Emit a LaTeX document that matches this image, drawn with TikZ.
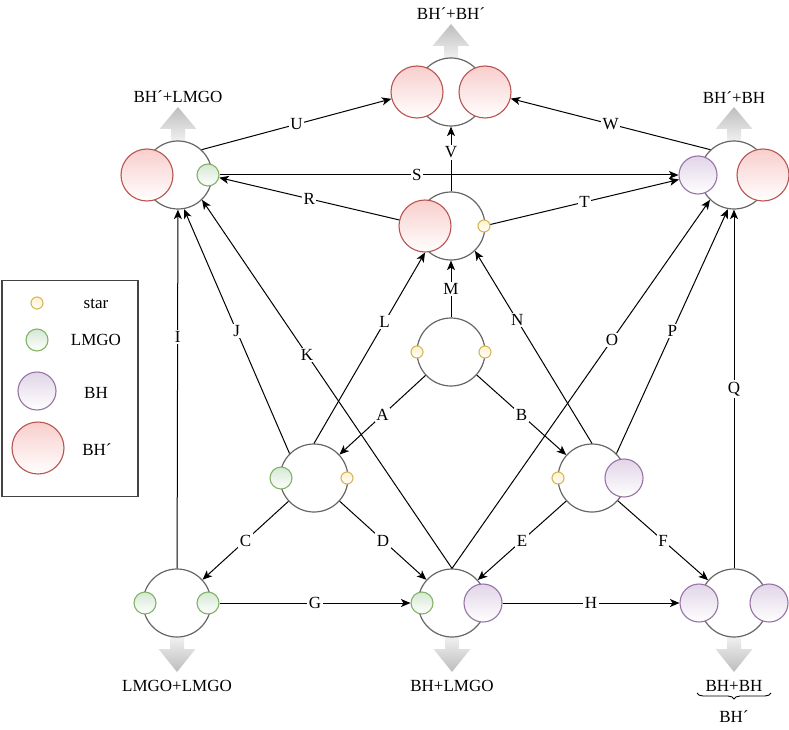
\documentclass[tikz,border=0pt]{standalone}
\usepackage{fontspec}
\setmainfont{Liberation Serif}
\usetikzlibrary{arrows.meta,decorations.pathreplacing}
\definecolor{ringc}{HTML}{666666}
\definecolor{redc}{HTML}{B85450}
\definecolor{redf}{HTML}{F8CECC}
\definecolor{purc}{HTML}{9673A6}
\definecolor{purf}{HTML}{E1D5E7}
\definecolor{grnc}{HTML}{82B366}
\definecolor{grnf}{HTML}{D5E8D4}
\definecolor{starc}{HTML}{D6B656}
\definecolor{starf}{HTML}{FFF2CC}
\definecolor{gdark}{HTML}{BDBDBD}
\definecolor{glight}{HTML}{F0F0F0}
\definecolor{legc}{HTML}{444444}
\newcommand\grayup[2]{\shade[top color=gdark,bottom color=glight] ({#1-7},{#2}) -- ({#1-7},{#2-12}) -- ({#1-18.5},{#2-12}) -- ({#1},{#2-34}) -- ({#1+18.5},{#2-12}) -- ({#1+7},{#2-12}) -- ({#1+7},{#2}) -- cycle;}
\newcommand\graydown[2]{\shade[top color=glight,bottom color=gdark] ({#1-7},{#2}) -- ({#1-7},{#2+12}) -- ({#1-18.5},{#2+12}) -- ({#1},{#2+35}) -- ({#1+18.5},{#2+12}) -- ({#1+7},{#2+12}) -- ({#1+7},{#2}) -- cycle;}
\begin{document}
\begin{tikzpicture}[x=1pt,y=-1pt,
  every node/.style={font=\fontsize{17}{20}\selectfont},
  ring/.style={circle,draw=ringc,fill=white,line width=1.2pt,minimum size=68pt,inner sep=0pt},
  redb/.style={circle,draw=redc,top color=redf,bottom color=white,line width=1.1pt,minimum size=52pt,inner sep=0pt},
  purb/.style={circle,draw=purc,top color=purf,bottom color=white,line width=1.1pt,minimum size=38pt,inner sep=0pt},
  grnb/.style={circle,draw=grnc,top color=grnf,bottom color=white,line width=1.1pt,minimum size=22pt,inner sep=0pt},
  starb/.style={circle,draw=starc,top color=starf,bottom color=white,line width=1.1pt,minimum size=12pt,inner sep=0pt},
  conn/.style={line width=1pt,-{Stealth[length=9.5pt,width=8pt,inset=2.5pt]}},
  lab/.style={fill=white,inner sep=1.5pt},
  txt/.style={inner sep=0pt}
]
\useasboundingbox (0,0) rectangle (789,730);

% gray arrows
\grayup{178}{141}
\grayup{451}{58}
\grayup{734}{141}
\graydown{177}{637}
\graydown{452}{637}
\graydown{734}{637}

% outcome labels
\node[txt] (lt) at (451,14) {BH´+BH´};
\node[txt] (ltl) at (178,97) {BH´+LMGO};
\node[txt] (ltr) at (734,98) {BH´+BH};
\node[txt] (lbl) at (177,686) {LMGO+LMGO};
\node[txt] (lbm) at (452,686) {BH+LMGO};
\node[txt] (lbr) at (734,686) {BH+BH};
\node[txt] (lbr2) at (734,717) {BH´};
\draw[line width=0.9pt,decorate,decoration={brace,mirror,amplitude=6pt}] (697,693) -- (771,693);

% rings
\node[ring] (t) at (451,92) {};
\node[ring] (tl) at (178,175) {};
\node[ring] (tr) at (734,175) {};
\node[ring] (mu) at (451,226) {};
\node[ring] (c) at (451,352) {};
\node[ring] (lm) at (314,478) {};
\node[ring] (rm) at (592,478) {};
\node[ring] (bl) at (177,603) {};
\node[ring] (bm) at (452,603) {};
\node[ring] (br) at (734,603) {};

% particles
\node[redb] (tred1) at (417,92) {};
\node[redb] (tred2) at (485,92) {};
\node[redb] (tlred) at (147,175) {};
\node[grnb] (tlg) at (208,175) {};
\node[purb] (trp) at (698,175) {};
\node[redb] (trred) at (763,175) {};
\node[redb] (mured) at (425,226) {};
\node[starb] (must) at (484,226) {};
\node[starb] (cs1) at (417,352) {};
\node[starb] (cs2) at (485,352) {};
\node[grnb] (lmg) at (281,478) {};
\node[starb] (lms) at (347,478) {};
\node[starb] (rms) at (558,478) {};
\node[purb] (rmp) at (624,478) {};
\node[grnb] (blg1) at (145,603) {};
\node[grnb] (blg2) at (208,603) {};
\node[grnb] (bmg) at (422,603) {};
\node[purb] (bmp) at (483,603) {};
\node[purb] (brp1) at (699,603) {};
\node[purb] (brp2) at (769,603) {};

% connectors
\draw[conn] (c) -- node[lab]{A} (lm);
\draw[conn] (c) -- node[lab]{B} (rm);
\draw[conn] (lm) -- node[lab]{C} (bl);
\draw[conn] (lm) -- node[lab]{D} (bm);
\draw[conn] (rm) -- node[lab]{E} (bm);
\draw[conn] (rm) -- node[lab]{F} (br);
\draw[conn] (blg2) -- node[lab]{G} (bmg);
\draw[conn] (bmp) -- node[lab]{H} (brp1);
\draw[conn] (bl) -- node[lab,pos=0.644]{I} (tl);
\draw[conn] (lm.135) -- node[lab]{J} (tl.-80);
\draw[conn] (bm.north) -- node[lab,pos=0.58]{K} (tl.-46);
\draw[conn] (lm.north) -- node[lab,pos=0.635]{L} (mured.south);
\draw[conn] (c) -- node[lab]{M} (mu);
\draw[conn] (rm.north) -- node[lab,pos=0.64]{N} (mu.-46);
\draw[conn] (bm.north) -- node[lab,pos=0.62]{O} (tr.-134);
\draw[conn] (rm.45) -- node[lab]{P} (tr.-100);
\draw[conn] (br) -- node[lab]{Q} (tr);
\draw[conn] (mured) -- node[lab]{R} (tlg);
\draw[conn] (tlg) -- node[lab,pos=0.43]{S} (trp);
\draw[conn] (must) -- node[lab]{T} (trp);
\draw[conn] (tl.47) -- node[lab]{U} (tred1);
\draw[conn] (mu) -- node[lab,pos=0.6]{V} (t);
\draw[conn] (tr.133) -- node[lab]{W} (tred2);

% legend
\node[draw=legc,line width=1.3pt,minimum width=136pt,minimum height=216pt,inner sep=0pt] (leg) at (70,388.5) {};
\node[starb] (ls) at (37,303) {};
\node[grnb] (lg) at (37,340) {};
\node[purb] (lp) at (37,391) {};
\node[redb] (lr) at (38,448) {};
\node[txt] (lst) at (96,304) {star};
\node[txt] (lgt) at (96,340) {LMGO};
\node[txt] (lpt) at (96,393) {BH};
\node[txt] (lrt) at (97,450) {BH´};
\end{tikzpicture}
\end{document}
